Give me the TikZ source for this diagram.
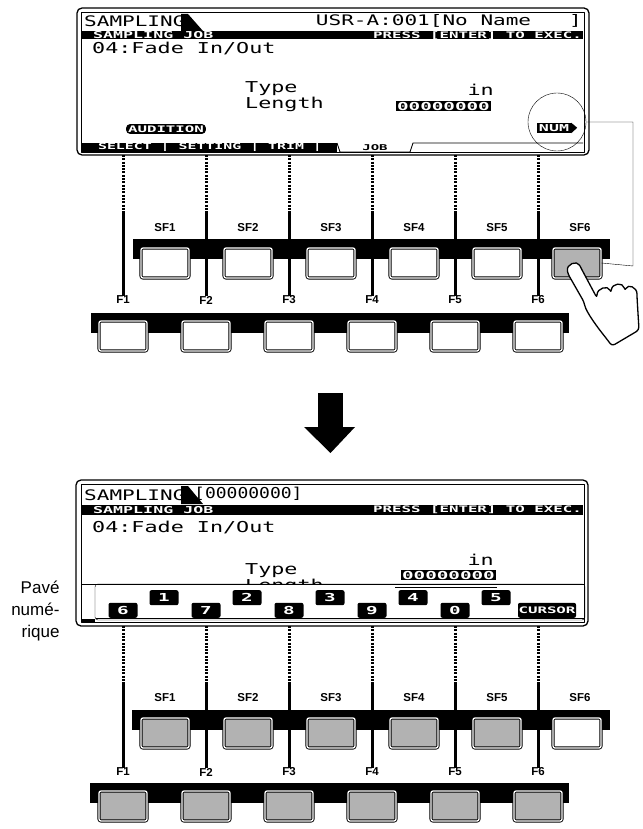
\documentclass[tikz,border=0pt]{standalone}
\usepackage{fontspec}
\setmainfont{Liberation Sans}
\newfontfamily\lcd[FakeStretch=1.2]{DejaVu Sans Mono}
\newfontfamily\lcdw[FakeStretch=1.45]{DejaVu Sans Mono}
\newfontfamily\lcds[FakeStretch=1.75]{DejaVu Sans Mono Bold}
\usetikzlibrary{positioning}

\begin{document}
\begin{tikzpicture}[
    x=1pt, y=-1pt,
    line join=round,
    btn/.style = {
      draw,
      double,
      line width = 0.9pt,
      double distance = 1.3pt,
      rounded corners = 2pt,
      minimum width = 48pt,
      minimum height = 30pt,
      inner sep = 0pt
    },
    lbl/.style = {font=\bfseries\fontsize{11.5}{11.5}\selectfont, inner sep=0pt},
    head/.style = {font=\lcdw\fontsize{14.5}{14.5}\selectfont, inner sep=0pt},
    big/.style = {font=\lcdw\fontsize{15}{15}\selectfont, inner sep=0pt},
    small/.style = {font=\lcds\fontsize{9.5}{9.5}\selectfont, inner sep=0pt},
    tag/.style = {small, fill=black, text=white, inner xsep=2pt, inner ysep=1.5pt},
    numbox/.style = {tag, font=\lcds\fontsize{11}{11}\selectfont, inner xsep=1pt, inner ysep=1pt},
    key/.style = {font=\lcds\fontsize{11}{11}\selectfont, fill=black, text=white,
      rounded corners=2pt, minimum width=29pt, minimum height=15pt, inner sep=0pt}
  ]
\useasboundingbox (0,0) rectangle (642,829);

% ---------------- upper display
\draw[line width=1.3pt, rounded corners=5pt] (77,8) rectangle (589,155);
\draw[line width=0.6pt] (81,12) rectangle (584,152);
\node[head, anchor=base west] (title) at (84,27) {SAMPLING};
\fill (181,14) -- (188,14) -- (203,31) -- (181,31) -- cycle;
\node[head, anchor=base east] (usr) at (582,26) {USR-A:001[No Name~~~]};
\fill (82,31) rectangle (583,39.5);
\node[small, text=white, anchor=west] (job) at (93,35.5) {SAMPLING JOB};
\node[small, text=white, anchor=east, font=\lcds\fontsize{9}{9}\selectfont] (press) at (582,35.5) {PRESS [ENTER] TO EXEC.};
\node[big, anchor=west] (fade) at (92,48) {04:Fade In/Out};
\node[big, anchor=west] (type) at (245,89) {Type};
\node[big, anchor=west] (len) at (245,104) {Length};
\node[big, anchor=east] (in) at (494,90) {in};
\node[numbox, anchor=east] (val) at (491,106) {00000000};
\node[tag, rounded corners=4pt, font=\lcds\fontsize{9}{9}\selectfont] (aud) at (166,129) {AUDITION};
\node[tag] (num) at (554,128) {NUM};
\fill (num.north east) -- ++(6,5) -- (num.south east) -- cycle;
\fill (82,143) rectangle (337,152);
\node[small, text=white, font=\lcds\fontsize{8.5}{8.5}\selectfont] (tabs) at (210,147.5) {SELECT | SETTING | TRIM |};
\draw[line width=0.9pt] (337,143) -- (340,152) -- (410,152) -- (413,143) -- (583,143);
\node[small, font=\lcds\fontsize{8}{8}\selectfont] (tjob) at (375,148) {JOB};
\draw[thin] (557,122) circle (29);
\coordinate (cir) at (586,122);

% ---------------- upper panel
\fill (133,239) rectangle (610,259);
\fill (91,313) rectangle (569,333);
\foreach \i in {1,...,6} {
  \pgfmathsetmacro\xx{123+(\i-1)*83}
  \coordinate (top\i) at (\xx,155);
  \coordinate (mid\i) at (\xx,212);
  \node[lbl] (f\i) at (\xx,300) {F\i};
  \node[lbl] (sfl\i) at ({\xx+42},228) {SF\i};
  \node[btn, fill=white] (f\i b) at (\xx,336) {};
  \draw[line width=3pt, dash pattern=on 2pt off 1.3pt] (top\i) -- (mid\i);
  \draw[line width=3pt] (mid\i) -- (f\i.north);
}
\foreach \i in {1,...,5}
  \node[btn, fill=white] (sf\i) at ({165+(\i-1)*83},263) {};
\node[btn, fill=black!30] (sf6) at (577,263) {};
\draw[thin] (cir) -| (633,266) -- (sf6.east);

% hand
\draw[line width=1.3pt, fill=white, rounded corners=3pt]
  (568,274) .. controls (566,264) and (577,260) .. (581,268)
  -- (597,298) .. controls (597,288) and (608,285) .. (611,293)
  .. controls (612,283) and (623,282) .. (625,291)
  .. controls (628,284) and (637,287) .. (637,297)
  -- (639,330) -- (612,346) -- (606,338)
  .. controls (598,328) and (586,312) .. (584,302)
  -- cycle;

% ---------------- arrow
\fill (318,393) rectangle (343,427);
\fill (304,427) -- (355,427) -- (330.5,453) -- cycle;

% ---------------- lower display
\draw[line width=1.3pt, rounded corners=5pt] (76,480) rectangle (588,626);
\draw[line width=0.6pt] (81,484) rectangle (584,622);
\node[head, anchor=base west] (title2) at (84,500) {SAMPLING};
\fill (181,486) -- (188,486) -- (203,504) -- (181,504) -- cycle;
\node[head, anchor=base west, font=\lcd\fontsize{15}{15}\selectfont] (brk) at (194,498) {[00000000]};
\fill (82,504.5) rectangle (583,515);
\node[small, text=white, anchor=west] (job2) at (93,509.8) {SAMPLING JOB};
\node[small, text=white, anchor=east, font=\lcds\fontsize{9}{9}\selectfont] (press2) at (582,509.8) {PRESS [ENTER] TO EXEC.};
\node[big, anchor=west] (fade2) at (92,527) {04:Fade In/Out};
\node[big, anchor=west] (type2) at (245,571) {Type};
\node[big, anchor=east] (in2) at (494,560) {in};
\begin{scope}
  \clip (82,560) rectangle (583,584);
  \node[big, anchor=west] (len2) at (245,586) {Length};
\end{scope}
\node[numbox, anchor=east] (val2) at (496,575) {00000000};
\fill[white] (82,584) rectangle (583,621);
\draw[line width=0.9pt] (81,584) -- (584,584);
\draw[thin] (395,587) -- (497,587);
\draw[thin, rounded corners=3pt] (95,584) rectangle (585,620);
\draw[line width=0.9pt] (96,618) -- (584,618);
\fill (81,619) rectangle (95,622);
\foreach \k [count=\i] in {6,7,8,9,0} {
  \node[key, anchor=south] (lo\i) at ({123+(\i-1)*83},618) {\k};
  \node[key, anchor=north] (up\i) at ({164+(\i-1)*83},590) {\i};
}
\node[key, anchor=south, minimum width=58pt, font=\lcds\fontsize{9}{9}\selectfont] (cur) at (547,618) {CURSOR};
\node[anchor=east, align=right, font=\fontsize{17}{22}\selectfont] (pave) at (63,611) {Pavé\\numé-\\rique};

% ---------------- lower panel
\fill (132,710) rectangle (610,730);
\fill (90,783) rectangle (569,803);
\foreach \i in {1,...,6} {
  \pgfmathsetmacro\xx{123+(\i-1)*83}
  \coordinate (btop\i) at (\xx,626);
  \coordinate (bmid\i) at (\xx,682);
  \node[lbl] (g\i) at (\xx,772) {F\i};
  \node[lbl] (sgl\i) at ({\xx+42},698) {SF\i};
  \node[btn, fill=black!30] (g\i b) at (\xx,806) {};
  \draw[line width=3pt, dash pattern=on 2pt off 1.3pt] (btop\i) -- (bmid\i);
  \draw[line width=3pt] (bmid\i) -- (g\i.north);
}
\foreach \i in {1,...,5}
  \node[btn, fill=black!30] (sg\i) at ({165+(\i-1)*83},733) {};
\node[btn, fill=white] (sg6) at (577,733) {};

\end{tikzpicture}
\end{document}
